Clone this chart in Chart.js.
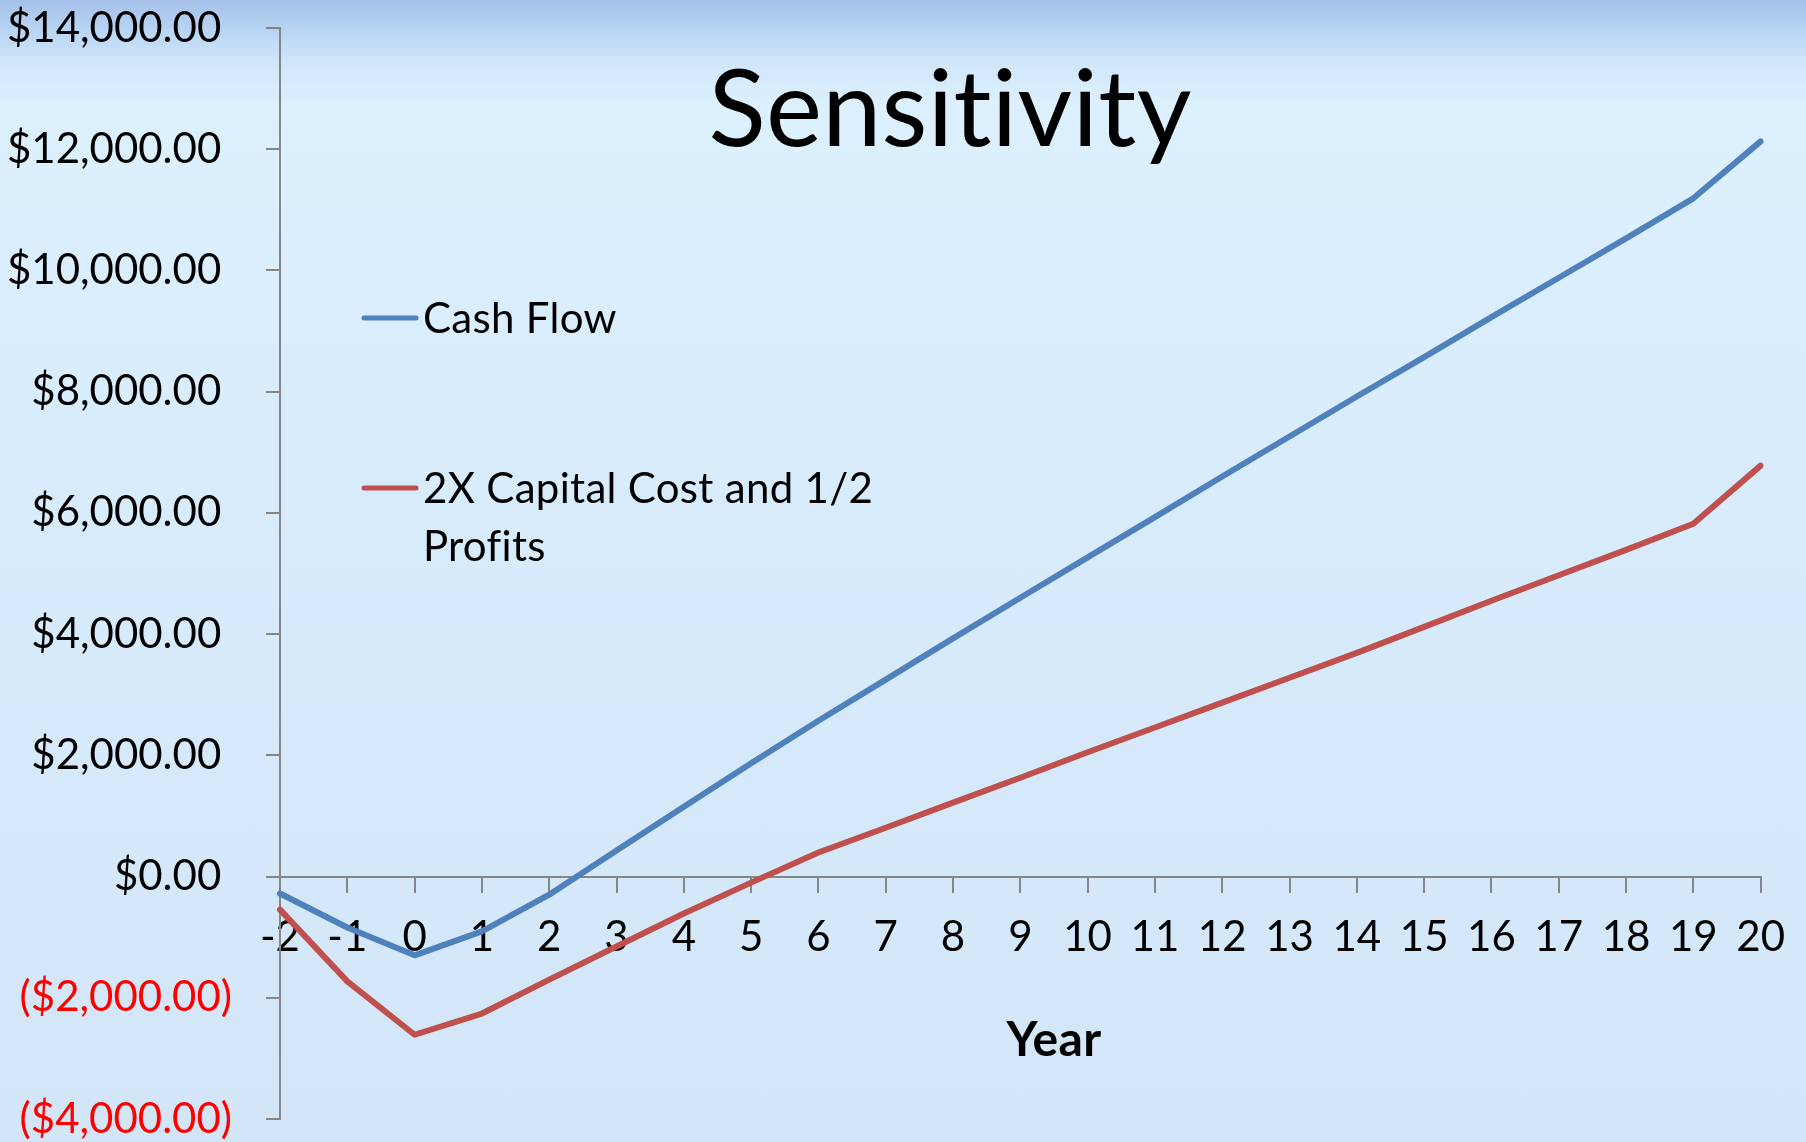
<!DOCTYPE html>
<html>
<head>
<meta charset="utf-8">
<script src="https://cdn.jsdelivr.net/npm/chart.js@4.4.1/dist/chart.umd.min.js"></script>
<style>
    html, body { margin: 0; padding: 0; }
    body {
        width: 1806px;
        height: 1142px;
        overflow: hidden;
        background: linear-gradient(to bottom, #a4c0e8 0px, #b8d4f3 30px, #d0e7fb 62px, #dcf0fe 105px, #d8ecfc 450px, #d3e6f8 1142px);
    }
    #wrap { position: relative; width: 1806px; height: 1142px; }
</style>
</head>
<body>
<div id="wrap"><canvas id="sensitivityChart"></canvas></div>
<script>
// data
const years = ["-2", "-1", "0", "1", "2", "3", "4", "5", "6", "7", "8", "9", "10",
    "11", "12", "13", "14", "15", "16", "17", "18", "19", "20"];
const cashFlow = [-280, -840, -1300, -905, -300, 430, 1150, 1870, 2570, 3250, 3930, 4600, 5265,
    5930, 6600, 7260, 7920, 8570, 9230, 9880, 10530, 11190, 12130];
const capitalCostHalfProfits = [-545, -1730, -2610, -2260, -1700, -1155, -610, -100, 396, 805, 1220, 1630, 2050,
    2460, 2870, 3280, 3690, 4120, 4550, 4970, 5390, 5820, 6780];
const seriesNames = ["Cash Flow", "2X Capital Cost and 1/2 Profits"];
const legendLines = [["Cash Flow"], ["2X Capital Cost and 1/2", "Profits"]];
const yTicks = { min: -4000, max: 14000, step: 2000 };
const chartTitle = "Sensitivity";
const xTitle = "Year";

const FONT = "Lato, 'Open Sans', sans-serif";
const axisGray = "#868686";

const money = (v) => {
    const s = "$" + Math.abs(v).toLocaleString("en-US", { minimumFractionDigits: 2, maximumFractionDigits: 2 });
    return v < 0 ? "(" + s + ")" : s + " ";
};

// title, legend and axis name sit on top of the plot like in the excel chart
const overlayPlugin = {
    id: "overlay",
    afterDraw(chart) {
        const ctx = chart.ctx;
        ctx.save();
        ctx.textRendering = "optimizeSpeed"; // no "ti"/"fi" ligatures
        ctx.letterSpacing = "0.3px";
        ctx.fillStyle = "#000";
        ctx.textAlign = "center";
        ctx.textBaseline = "alphabetic";
        ctx.font = "106px " + FONT;
        ctx.fillText(chartTitle, 950, 146);

        // excel put the axis name a bit right of the plot centre
        ctx.font = "bold 48px " + FONT;
        ctx.fillText(xTitle, 1054, 1056);

        const rows = [333, 503];
        chart.data.datasets.forEach((ds, i) => {
            const base = rows[i];
            const mid = base - 15;
            ctx.strokeStyle = ds.borderColor;
            ctx.lineWidth = 5;
            ctx.lineCap = "round";
            ctx.beginPath();
            ctx.moveTo(364, mid);
            ctx.lineTo(416, mid);
            ctx.stroke();
            ctx.fillStyle = "#000";
            ctx.textAlign = "left";
            ctx.font = "42px " + FONT;
            legendLines[i].forEach((line, j) => {
                ctx.fillText(line, 423, base + j * 58);
            });
        });
        ctx.restore();
    },
};

const ctx = document.getElementById("sensitivityChart").getContext("2d");
const myChart = new Chart(ctx, {
    type: "line",
    data: {
        labels: years,
        datasets: [
            {
                label: seriesNames[0],
                data: cashFlow,
                borderColor: "#4F81BD",
                borderWidth: 6,
            },
            {
                label: seriesNames[1],
                data: capitalCostHalfProfits,
                borderColor: "#C0504D",
                borderWidth: 6,
            },
        ],
    },
    options: {
        responsive: true,
        maintainAspectRatio: false,
        animation: false,
        layout: { padding: { top: 28, bottom: 23, left: 0, right: 44 } },
        elements: {
            point: { radius: 0, hoverRadius: 0 },
            line: { tension: 0, borderJoinStyle: "round", borderCapStyle: "round" },
        },
        plugins: {
            legend: { display: false },
            tooltip: { enabled: false },
        },
        scales: {
            x: {
                type: "category",
                position: { y: 0 },
                offset: false,
                grid: {
                    drawOnChartArea: false,
                    drawTicks: true,
                    tickLength: 15,
                    color: axisGray,
                    lineWidth: 2,
                },
                border: { display: true, color: axisGray, width: 2 },
                ticks: {
                    autoSkip: false,
                    maxRotation: 0,
                    padding: 21,
                    color: "#000",
                    font: { family: FONT, size: 42 },
                },
            },
            y: {
                position: "left",
                min: yTicks.min,
                max: yTicks.max,
                afterFit: (scale) => {
                    scale.width = 280;
                    // labels may hang over the edges, the outer padding is set by hand
                    scale.paddingTop = 0;
                    scale.paddingBottom = 0;
                },
                grid: {
                    drawOnChartArea: false,
                    drawTicks: true,
                    tickLength: 14,
                    color: axisGray,
                    lineWidth: 2,
                },
                border: { display: true, color: axisGray, width: 2 },
                ticks: {
                    stepSize: yTicks.step,
                    padding: 34,
                    font: { family: FONT, size: 42, lineHeight: 1 },
                    color: (c) => (c.tick && c.tick.value < 0 ? "#FF0000" : "#000"),
                    callback: (v) => money(v),
                },
            },
        },
    },
    plugins: [overlayPlugin],
});
</script>
</body>
</html>
